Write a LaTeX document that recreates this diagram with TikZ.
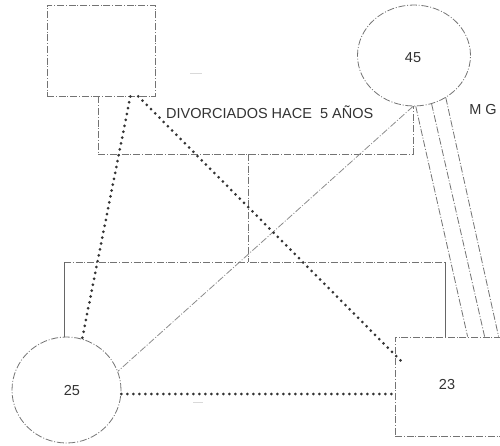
\documentclass[tikz,border=0pt]{standalone}
\usepackage{fontspec}
\setmainfont{Liberation Sans}
\usetikzlibrary{shapes.geometric,calc}
\begin{document}
\begin{tikzpicture}[x=1pt,y=-1pt,
  dashdot/.style={draw=black!55, line width=0.8pt, dash pattern=on 7pt off 1.8pt on 1pt off 1.8pt},
  solidln/.style={draw=black!60, line width=0.8pt},
  dotln/.style={draw=black!80, line width=3pt, line cap=round, dash pattern=on 0pt off 6pt},
  faint/.style={draw=black!15, line width=1pt},
  lbl/.style={text=black!80, font=\fontsize{14.5}{17}\selectfont, inner sep=0pt},
  boxnode/.style={dashdot, rectangle, inner sep=0pt},
  ellnode/.style={dashdot, ellipse, inner sep=0pt}]
\useasboundingbox (0,0) rectangle (500,445);
% persons
\node[boxnode, minimum width=108pt, minimum height=91pt] (F) at (101,50.5) {};
\node[ellnode, minimum width=113pt, minimum height=101pt] (M) at (414,55.5) {};
\node[lbl] (Mlab) at (413,58) {45};
\node[ellnode, minimum width=109pt, minimum height=106pt] (D) at (66.5,390) {};
\node[lbl] (Dlab) at (72,390) {25};
\node[boxnode, minimum width=108pt, minimum height=99pt] (S) at (449,386.5) {};
\node[lbl] (Slab) at (447,384) {23};
% texts
\node[lbl, anchor=west] (div) at (166,112) {DIVORCIADOS HACE\ \ 5 AÑOS};
\node[lbl] (mg) at (483,110) {M G};
% marriage line
\coordinate (jL) at (98,154);
\coordinate (jR) at (413,154);
\draw[dashdot] (F.south -| jL) -- (jL) -- (jR) -- (M.south -| jR);
% children line
\coordinate (cT) at (248,154);
\coordinate (cB) at (248,262);
\coordinate (kL) at (64,262);
\coordinate (kR) at (445,262);
\draw[dashdot] (cT) -- (cB);
\draw[dashdot] (kL) -- (kR);
\draw[solidln] (kL) -- (D.north -| kL);
\draw[solidln] (kR) -- (S.north -| kR);
% mother to daughter
\draw[dashdot, draw=black!45] (M.south -| jR) -- (D.20);
% mother to son (three lines)
\draw[dashdot] (M.-88) -- ($(S.north west)+(73,0)$);
\draw[dashdot] (M.-70) -- ($(S.north west)+(90,0)$);
\draw[dashdot] (M.-53) -- ($(S.north west)+(104,0)$);
% dotted relations
\draw[dotln] ($(F.south west)!0.77!(F.south east)$) -- (D.73);
\draw[dotln] ($(F.south west)!0.843!(F.south east)$) -- ($(S.north west)+(8,26)$);
\draw[dotln] ($(D.east)+(0,4)$) coordinate (h1) -- (h1 -| S.west);
% faint marks
\draw[faint] (190,73) -- (202,73);
\draw[faint] (193,402) -- (203,402);
\end{tikzpicture}
\end{document}
